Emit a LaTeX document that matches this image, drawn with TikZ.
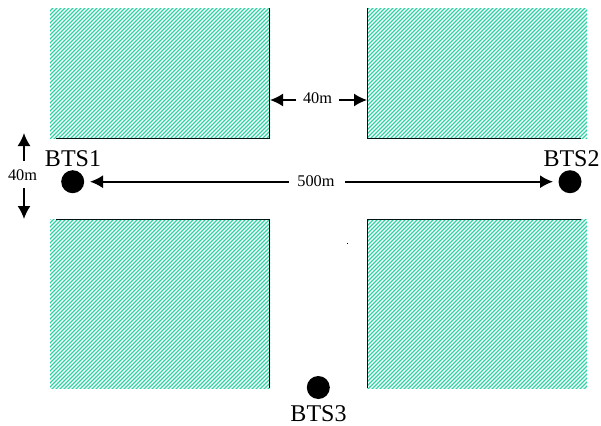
\documentclass[tikz,border=0pt]{standalone}
\usepackage{fontspec}
\setmainfont{Liberation Serif}
\usetikzlibrary{patterns.meta,arrows.meta}
\definecolor{hatchc}{RGB}{40,210,165}
\tikzset{
  x=1bp,y=-1bp,
  block/.style={fill=white,postaction={pattern={Lines[angle=45,distance=2.8284bp,line width=1.1bp]},pattern color=hatchc}},
  edgeline/.style={draw=black!85!teal,line width=1bp},
  bts/.style={circle,fill=black,minimum size=23bp,inner sep=0pt},
  biglabel/.style={inner sep=0pt,font=\fontsize{24bp}{26bp}\selectfont},
  smalllabel/.style={inner sep=0pt,font=\fontsize{16.3bp}{18bp}\selectfont},
  dim/.style={line width=1.7bp,-{Latex[length=13bp,width=13bp]},black}
}
\begin{document}
\begin{tikzpicture}
\useasboundingbox (0,0) rectangle (601,425);
\fill[block] (50,8) rectangle (270,138);
\fill[block] (367,8) rectangle (587,138);
\fill[block] (50,219) rectangle (270,388);
\fill[block] (367,219) rectangle (587,388);
\draw[edgeline] (56,138) -- (269.5,138) -- (269.5,8);
\draw[edgeline] (367.5,8) -- (367.5,138) -- (581,138);
\draw[edgeline] (56,219) -- (269.5,219) -- (269.5,388);
\draw[edgeline] (367.5,388) -- (367.5,219) -- (581,219);
\fill (347,242.5) rectangle (348,244);
\node[bts] (b1) at (72.7,181.7) {};
\node[bts] (b2) at (570,181.7) {};
\node[bts] (b3) at (318.3,387.5) {};
\node[biglabel] (t1) at (73,158.7) {BTS1};
\node[biglabel] (t2) at (571.5,158.5) {BTS2};
\node[biglabel] (t3) at (318.5,413.5) {BTS3};
\node[smalllabel] (d500) at (316,181) {500m};
\node[smalllabel] (d40h) at (317.5,98) {40m};
\node[smalllabel] (d40v) at (22.5,175) {40m};
\coordinate (wl) at (270,100);
\coordinate (wr) at (367,100);
\coordinate (wls) at (296,100);
\coordinate (wrs) at (339,100);
\coordinate (vt) at (24,133);
\coordinate (vb) at (24,219);
\coordinate (vts) at (24,161);
\coordinate (vbs) at (24,188);
\coordinate (al) at (90,181.7);
\coordinate (ar) at (553,181.7);
\coordinate (als) at (289,181.7);
\coordinate (ars) at (345,181.7);
\draw[dim] (als) -- (al);
\draw[dim] (ars) -- (ar);
\draw[dim] (wls) -- (wl);
\draw[dim] (wrs) -- (wr);
\draw[dim] (vts) -- (vt);
\draw[dim] (vbs) -- (vb);
\end{tikzpicture}
\end{document}
